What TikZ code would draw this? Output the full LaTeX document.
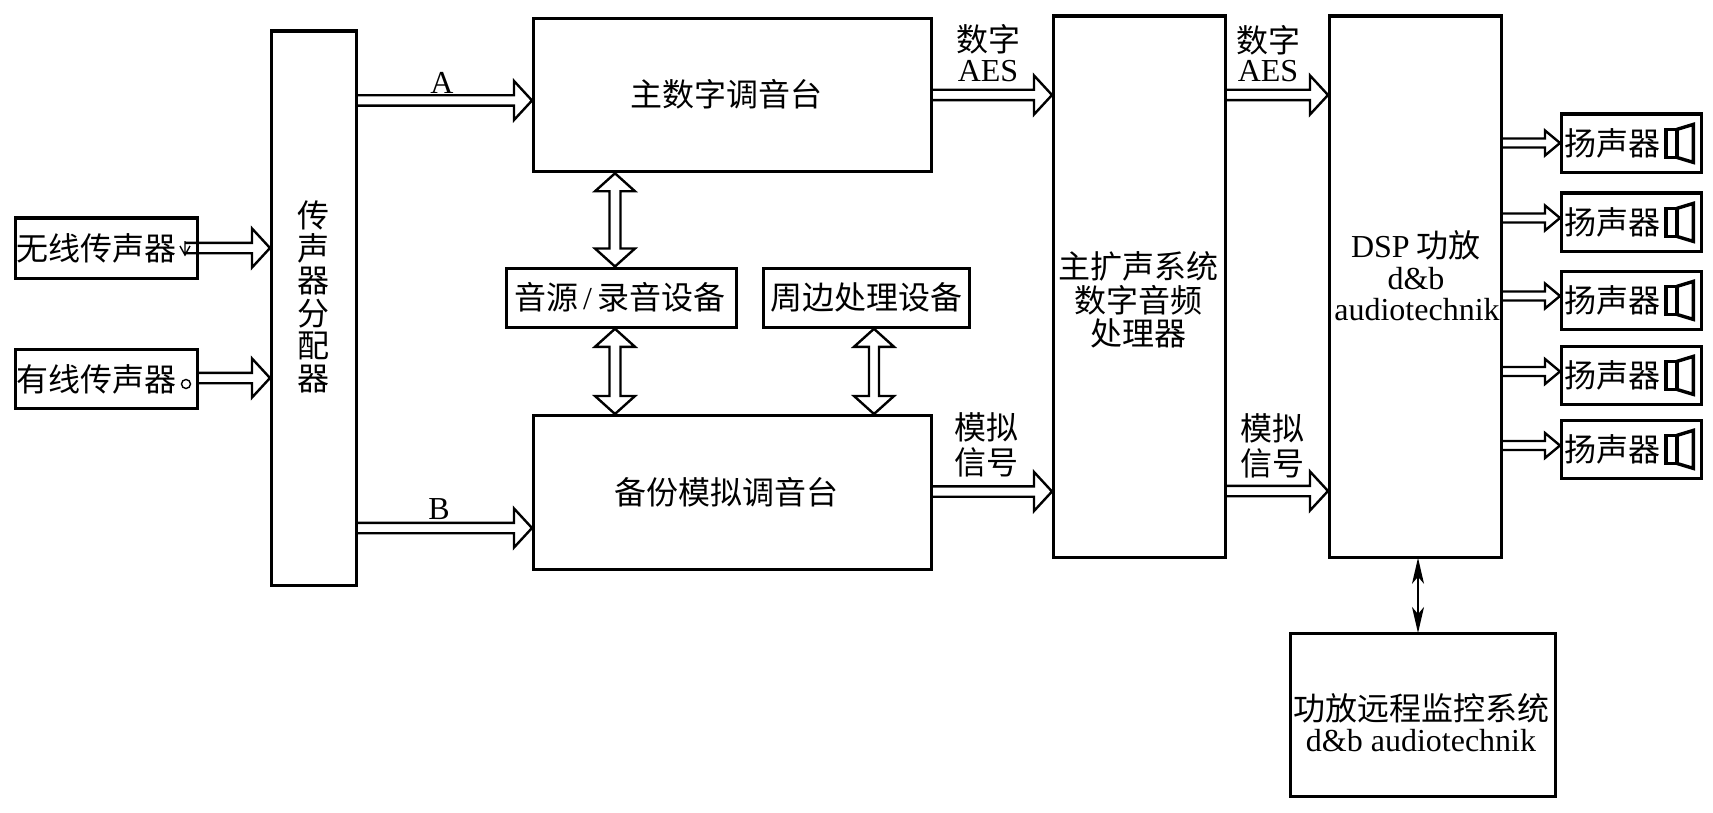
\documentclass[tikz,border=0pt]{standalone}
\usepackage{fontspec}
\setmainfont{Liberation Serif}
\newfontfamily\cjk{Noto Sans CJK SC}
\usetikzlibrary{calc,arrows.meta}
\tikzset{
 box/.style={draw,line width=3.3pt,fill=white,inner sep=0pt,align=center,font=\fontsize{32}{35}\selectfont\cjk},
 lbl/.style={inner sep=0pt,align=center,font=\fontsize{32}{35}\selectfont\cjk},
 latin/.style={inner sep=0pt,align=center,font=\fontsize{32}{35}\selectfont},
 hollow/.style n args={3}{line width=2.4pt,draw,line join=miter,to path={
   ($(\tikztostart)!#1!90:(\tikztotarget)$)
   -- ($($(\tikztotarget)!#3!(\tikztostart)$)!#1!90:(\tikztotarget)$)
   -- ($($(\tikztotarget)!#3!(\tikztostart)$)!#2!90:(\tikztotarget)$)
   -- (\tikztotarget)
   -- ($($(\tikztotarget)!#3!(\tikztostart)$)!#2!-90:(\tikztotarget)$)
   -- ($($(\tikztotarget)!#3!(\tikztostart)$)!#1!-90:(\tikztotarget)$)
   -- ($(\tikztostart)!#1!-90:(\tikztotarget)$)}},
 hollowboth/.style n args={3}{line width=2.4pt,draw,line join=miter,to path={
   (\tikztostart)
   -- ($($(\tikztostart)!#3!(\tikztotarget)$)!#2!90:(\tikztotarget)$)
   -- ($($(\tikztostart)!#3!(\tikztotarget)$)!#1!90:(\tikztotarget)$)
   -- ($($(\tikztotarget)!#3!(\tikztostart)$)!#1!90:(\tikztotarget)$)
   -- ($($(\tikztotarget)!#3!(\tikztostart)$)!#2!90:(\tikztotarget)$)
   -- (\tikztotarget)
   -- ($($(\tikztotarget)!#3!(\tikztostart)$)!#2!-90:(\tikztotarget)$)
   -- ($($(\tikztotarget)!#3!(\tikztostart)$)!#1!-90:(\tikztotarget)$)
   -- ($($(\tikztostart)!#3!(\tikztotarget)$)!#1!-90:(\tikztotarget)$)
   -- ($($(\tikztostart)!#3!(\tikztotarget)$)!#2!-90:(\tikztotarget)$)
   -- cycle}},
 big/.style={hollow={5.2pt}{19.5pt}{18pt}},
 small/.style={hollow={4.5pt}{12.5pt}{15pt}},
 vert/.style={hollowboth={5.5pt}{20pt}{18pt}},
 spk/.pic={\draw[line width=3.4pt,line join=miter] (-37.5,-14) rectangle (-26.5,14);
   \draw[line width=3.4pt,line join=miter] (-26.5,-14) -- (-10,-19) -- (-10,19) -- (-26.5,14);}
}
\newcommand{\spkbox}[2]{\node[box,minimum width=140pt,minimum height=58.5pt,anchor=north west,
  text width=138pt] (#1) at (1560,#2) {\hspace*{-38pt}扬声器};
  \pic at (#1.east) {spk};}
\begin{document}
\begin{tikzpicture}[x=1pt,y=-1pt]
\useasboundingbox[fill=white] (0,0) rectangle (1713,813);
% left column
\node[box,minimum width=182pt,minimum height=60pt,anchor=north west] (wl) at (14,216.5) {\hspace*{-20pt}无线传声器};
\node[box,minimum width=182pt,minimum height=59.5pt,anchor=north west] (wd) at (14,347.5) {\hspace*{-20pt}有线传声器};
\node[box,minimum width=85pt,minimum height=554pt,anchor=north west] (split) at (270,29.5) {};
\node[lbl,font=\fontsize{32}{32.5}\selectfont\cjk] (splittext) at (313,297) {传\\声\\器\\分\\配\\器};
% mixers
\node[box,minimum width=398pt,minimum height=153pt,anchor=north west] (main) at (532,17) {\raisebox{4pt}{\hspace*{-13pt}主数字调音台}};
\node[box,minimum width=398pt,minimum height=154pt,anchor=north west] (backup) at (532,414) {\hspace*{-13pt}备份模拟调音台};
\node[box,minimum width=230pt,minimum height=59pt,anchor=north west] (src) at (505,266.5) {\hspace*{-4pt}音源\hspace{5pt}{\rmfamily /}\hspace{5pt}录音设备};
\node[box,minimum width=206pt,minimum height=59pt,anchor=north west] (peri) at (761.5,266.5) {周边处理设备};
% processors
\node[box,minimum width=172pt,minimum height=541pt,anchor=north west] (proc) at (1052,14.5) {};
\node[lbl,font=\fontsize{32}{33.5}\selectfont\cjk] (proctext) at (1138,300) {主扩声系统\\数字音频\\处理器};
\node[box,minimum width=172pt,minimum height=541pt,anchor=north west] (dsp) at (1328,14.5) {};
\node[lbl] (dsptext) at (1416,245) {{\rmfamily DSP} 功放};
\node[latin] (dsptexta) at (1416,279) {d\&b};
\node[latin] (dsptextb) at (1417,310) {audiotechnik};
\node[box,minimum width=265pt,minimum height=163pt,anchor=north west] (remote) at (1289,632) {};
\node[lbl] (remotea) at (1421,708) {功放远程监控系统};
\node[latin] (remoteb) at (1421,741) {d\&b audiotechnik};
% speakers
\spkbox{s1}{112.5}
\spkbox{s2}{191.5}
\spkbox{s3}{269.5}
\spkbox{s4}{344.5}
\spkbox{s5}{418.5}
% inputs
\coordinate (wlout) at (185,248);
\coordinate (wdout) at (196,378);
\draw[big] (wlout) to (split.west |- wlout);
\draw[big] (wdout) to (split.west |- wdout);
\draw[line width=1.4pt] (185,241) -- (185,255) (180,246) -- (185,255) -- (190,246);
\node[circle,draw,line width=1.4pt,fill=white,minimum size=9pt,inner sep=0pt] (wdmark) at (186,384) {};
% A B
\coordinate (a) at (356,100.5);
\coordinate (b) at (356,528);
\draw[big] (a) to (main.west |- a);
\draw[big] (b) to (backup.west |- b);
\node[latin] (la) at (442,83) {A};
\node[latin] (lb) at (439,509) {B};
% to processors
\coordinate (m1) at (931,95);
\coordinate (m2) at (931,491.5);
\coordinate (p1) at (1225,95);
\coordinate (p2) at (1225,491);
\draw[big] (m1) to (proc.west |- m1);
\draw[big] (m2) to (proc.west |- m2);
\draw[big] (p1) to (dsp.west |- p1);
\draw[big] (p2) to (dsp.west |- p2);
\node[lbl] (l1) at (988,39) {数字};
\node[latin] (l1b) at (988,71) {AES};
\node[lbl] (l2) at (1268,40) {数字};
\node[latin] (l2b) at (1268,71) {AES};
\node[lbl] (l3) at (986,427) {模拟};
\node[lbl] (l3b) at (986,462) {信号};
\node[lbl] (l4) at (1272,428) {模拟};
\node[lbl] (l4b) at (1272,463) {信号};
% verticals
\coordinate (v1) at (615,0);
\coordinate (v2) at (874,0);
\draw[vert] (main.south -| v1) to (src.north -| v1);
\draw[vert] (src.south -| v1) to (backup.north -| v1);
\draw[hollowboth={5pt}{20pt}{18pt}] (peri.south -| v2) to (backup.north -| v2);
% speakers arrows
\foreach \n/\y in {s1/143,s2/218,s3/296,s4/371.5,s5/445.5}{
  \coordinate (o) at (1502,\y);
  \draw[small] (o) to (\n.west |- o);
}
% remote
\coordinate (v3) at (1418,0);
\draw[line width=1.6pt,shorten <=-1pt,shorten >=-1pt,{Stealth[length=26pt,width=12pt,inset=7pt]}-{Stealth[length=26pt,width=12pt,inset=7pt]}] (remote.north -| v3) -- (dsp.south -| v3);
\end{tikzpicture}
\end{document}
